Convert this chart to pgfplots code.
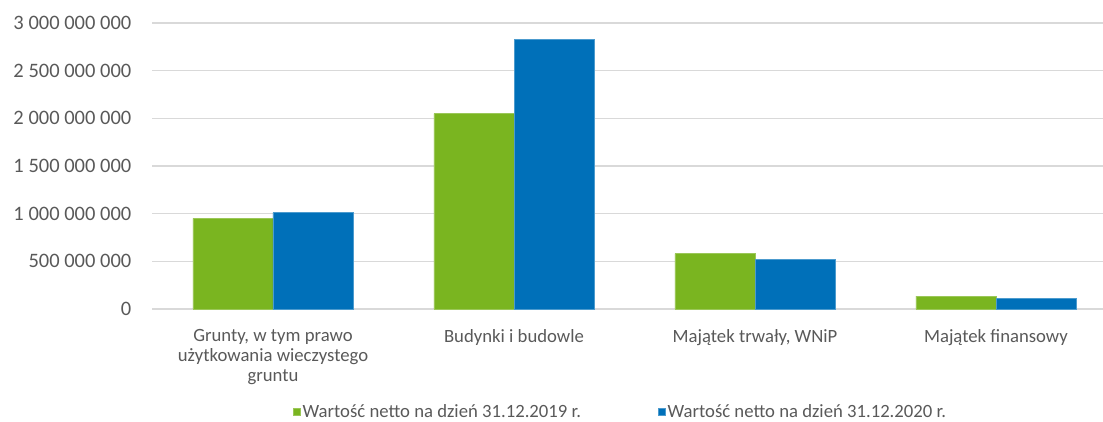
\documentclass[border=0pt]{standalone}
\usepackage{pgfplots}
\pgfplotsset{compat=1.18}
\usepackage{fontspec}
\setmainfont{Carlito}
\definecolor{cgreen}{RGB}{122,181,32}
\definecolor{cblue}{RGB}{0,112,185}
\definecolor{cgrid}{RGB}{217,217,217}
\definecolor{ctext}{RGB}{89,89,89}
\begin{document}
\begin{tikzpicture}
\begin{axis}[
  scale only axis, width=950.5pt, height=286pt,
  xmin=-0.5, xmax=3.444, ymin=0, ymax=3e9,
  ybar=0pt, bar width=0.332,
  axis line style={draw=none},
  ymajorgrids, grid style={cgrid, line width=1.3pt},
  major tick length=0pt,
  scaled y ticks=false,
  xtick={0,1,2,3},
  xticklabels={{Grunty, w tym prawo\\użytkowania wieczystego\\gruntu},{Budynki i budowle},{Majątek trwały, WNiP},{Majątek finansowy}},
  xticklabel style={align=center, font=\fontsize{18.7}{20}\selectfont, text=ctext, anchor=north, inner sep=0pt, yshift=-20pt},
  ytick={0,5e8,1e9,1.5e9,2e9,2.5e9,3e9},
  yticklabels={0,500 000 000,1 000 000 000,1 500 000 000,2 000 000 000,2 500 000 000,3 000 000 000},
  yticklabel style={font=\fontsize{20.5}{24}\selectfont, text=ctext, inner sep=0pt, anchor=east, xshift=-21pt},
  legend columns=2,
  legend image code/.code={\fill[#1] (0pt,-3.5pt) rectangle (7pt,3.5pt);},
  legend style={at={(axis description cs:0.4924,-0.360)}, anchor=center, draw=none, fill=none,
    font=\fontsize{18.7}{22}\selectfont, text=ctext,
    /tikz/every even column/.append style={column sep=75pt}},
]
\addplot[fill=cgreen, draw=cgreen!75!white, line width=0.6pt] coordinates {(0,951000000) (1,2049000000) (2,580000000) (3,136000000)};
\addplot[fill=cblue, draw=cblue!70!white, line width=0.6pt] coordinates {(0,1010000000) (1,2829000000) (2,521000000) (3,112000000)};
\legend{Wartość netto na dzień 31.12.2019 r.,Wartość netto na dzień 31.12.2020 r.}
\end{axis}
\pgfresetboundingbox
\path (current axis.south west) ++(-152.5pt,-112pt) rectangle ++(1103pt,421pt);
\end{tikzpicture}
\end{document}
